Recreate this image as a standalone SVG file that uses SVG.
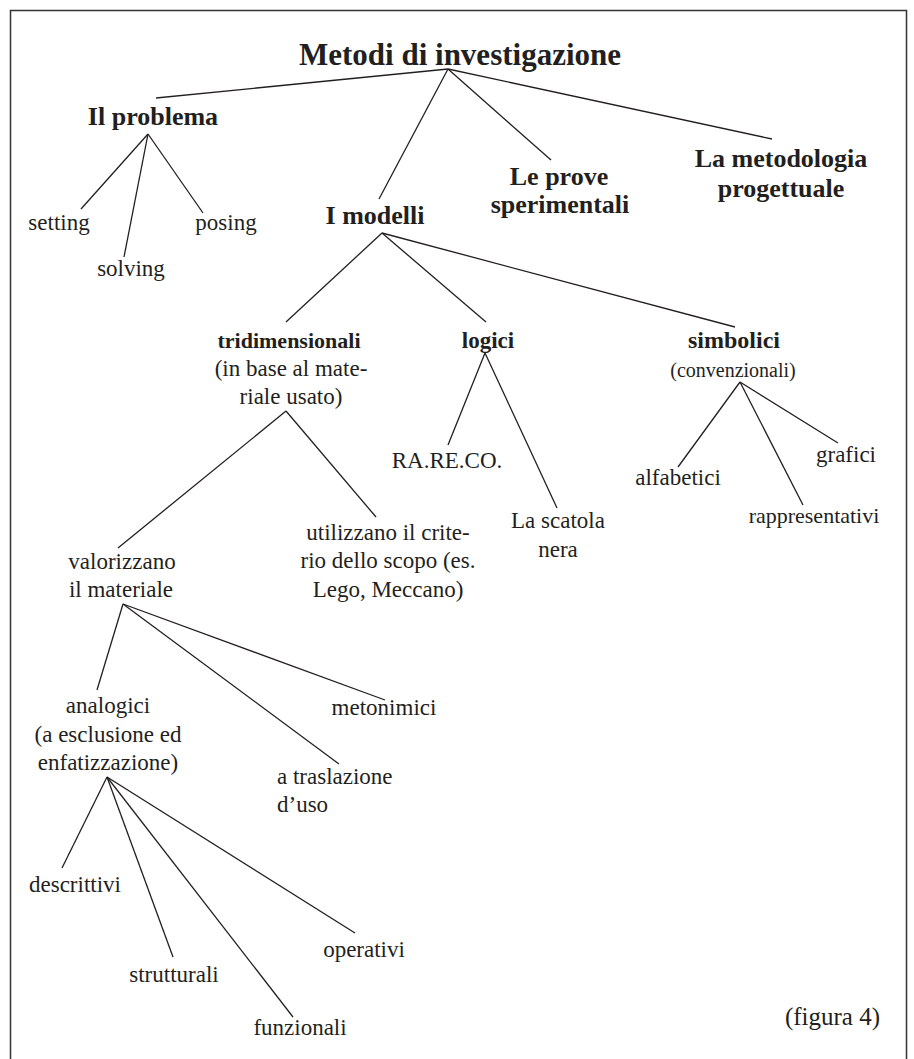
<svg xmlns="http://www.w3.org/2000/svg" width="914" height="1059" viewBox="0 0 914 1059">
<style>
text{font-family:"Liberation Serif","Times New Roman",serif;fill:#231f20;text-anchor:middle}
.t{font-size:31px;font-weight:bold}
.b1{font-size:26px;font-weight:bold}
.b2{font-size:23px;font-weight:bold}
.r{font-size:23px}
.l{text-anchor:start}
#edges line{stroke:#231f20;stroke-width:1.3}
</style>
<rect width="914" height="1059" fill="#fff"/>
<path d="M10.5 1070V10.5H906.5V1070" fill="none" stroke="#333" stroke-width="1.5"/>
<g id="edges">
<line x1="448" y1="69" x2="156" y2="98"/>
<line x1="448" y1="69" x2="379" y2="199"/>
<line x1="448" y1="69" x2="551" y2="160"/>
<line x1="448" y1="69" x2="772" y2="139"/>
<line x1="148" y1="134" x2="81" y2="209"/>
<line x1="148" y1="134" x2="124" y2="257"/>
<line x1="148" y1="134" x2="203" y2="213"/>
<line x1="382" y1="233" x2="286" y2="322"/>
<line x1="382" y1="233" x2="486" y2="322"/>
<line x1="382" y1="233" x2="735" y2="327"/>
<line x1="286" y1="411" x2="118" y2="548"/>
<line x1="286" y1="411" x2="376" y2="517"/>
<line x1="485" y1="353" x2="448" y2="445"/>
<line x1="485" y1="353" x2="557" y2="508"/>
<line x1="740" y1="382" x2="678" y2="467"/>
<line x1="740" y1="382" x2="803" y2="505"/>
<line x1="740" y1="382" x2="838" y2="443"/>
<line x1="123" y1="604" x2="97" y2="690"/>
<line x1="123" y1="604" x2="339" y2="764"/>
<line x1="123" y1="604" x2="385" y2="700"/>
<line x1="107" y1="777" x2="62" y2="868"/>
<line x1="107" y1="777" x2="173" y2="957"/>
<line x1="107" y1="777" x2="293" y2="1017"/>
<line x1="107" y1="777" x2="355" y2="933"/>
</g>
<g id="root"><text class="t" x="460" y="65">Metodi di investigazione</text></g>
<g id="problema"><text class="b1" x="153" y="125">Il problema</text></g>
<g id="setting"><text class="r" x="59" y="230">setting</text></g>
<g id="solving"><text class="r" x="131" y="276">solving</text></g>
<g id="posing"><text class="r" x="226" y="230">posing</text></g>
<g id="modelli"><text class="b1" x="375" y="224">I modelli</text></g>
<g id="prove"><text class="b1" x="559" y="185">Le prove</text><text class="b1" x="560" y="213">sperimentali</text></g>
<g id="metodologia"><text class="b1" x="781" y="167">La metodologia</text><text class="b1" x="781" y="197">progettuale</text></g>
<g id="tridimensionali"><text class="b2" x="289" y="348" style="font-size:22px">tridimensionali</text><text class="r" x="291" y="376">(in base al mate-</text><text class="r" x="291" y="404">riale usato)</text></g>
<g id="logici"><text class="b2" x="488" y="348">logici</text></g>
<g id="simbolici"><text class="b2" x="734" y="348" style="font-size:24px">simbolici</text><text class="r" x="733" y="377" style="font-size:20px">(convenzionali)</text></g>
<g id="rareco"><text class="r" x="447" y="468">RA.RE.CO.</text></g>
<g id="scatola"><text class="r" x="558" y="528">La scatola</text><text class="r" x="558" y="557">nera</text></g>
<g id="utilizzano"><text class="r" x="388" y="540">utilizzano il crite-</text><text class="r" x="388" y="568">rio dello scopo (es.</text><text class="r" x="388" y="597">Lego, Meccano)</text></g>
<g id="alfabetici"><text class="r" x="678" y="485">alfabetici</text></g>
<g id="grafici"><text class="r" x="846" y="462">grafici</text></g>
<g id="rappresentativi"><text class="r" x="814" y="523" style="font-size:22px">rappresentativi</text></g>
<g id="valorizzano"><text class="r" x="122" y="569">valorizzano</text><text class="r" x="121" y="597">il materiale</text></g>
<g id="analogici"><text class="r" x="108" y="713">analogici</text><text class="r" x="108" y="742">(a esclusione ed</text><text class="r" x="108" y="770">enfatizzazione)</text></g>
<g id="metonimici"><text class="r" x="384" y="715">metonimici</text></g>
<g id="traslazione"><text class="r l" x="277" y="784">a traslazione</text><text class="r l" x="277" y="812">d’uso</text></g>
<g id="descrittivi"><text class="r" x="75" y="892">descrittivi</text></g>
<g id="strutturali"><text class="r" x="174" y="982">strutturali</text></g>
<g id="funzionali"><text class="r" x="300" y="1035">funzionali</text></g>
<g id="operativi"><text class="r" x="364" y="957">operativi</text></g>
<g id="figura"><text class="r" x="880" y="1025" style="text-anchor:end;font-size:25px">(figura 4)</text></g>
</svg>
